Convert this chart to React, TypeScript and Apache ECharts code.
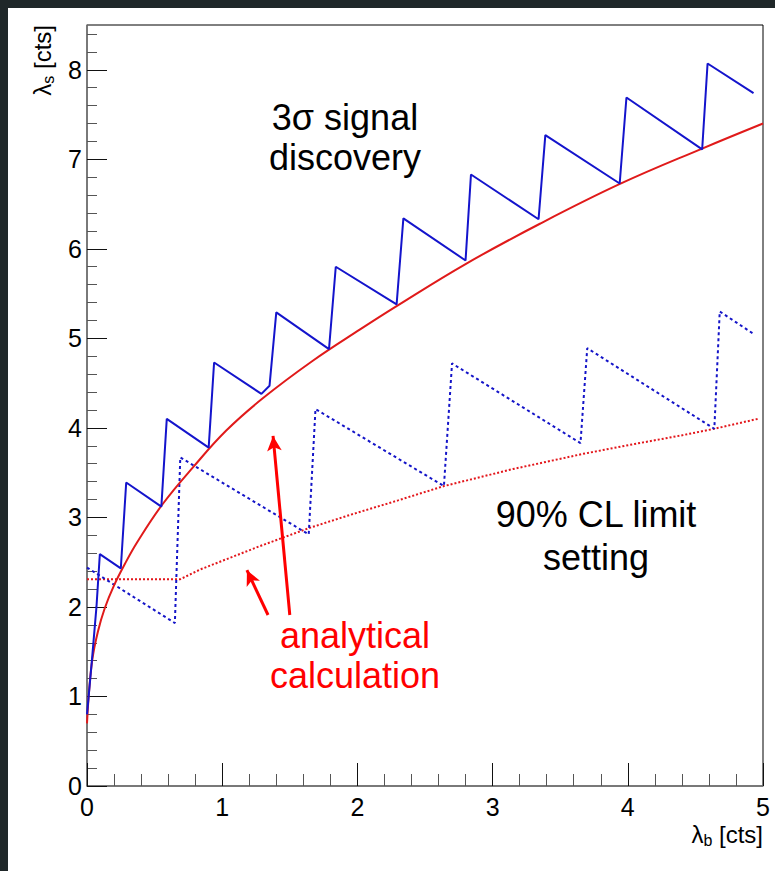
import React, { useEffect, useRef } from 'react';
import * as echarts from 'echarts';

// Red solid: analytical 3σ discovery
const discoveryAnalytical: number[][] = [
  [0, 0.7], [0.015, 1.05], [0.04, 1.42], [0.08, 1.72], [0.13, 1.98], [0.2, 2.24],
  [0.28, 2.48], [0.37, 2.72], [0.56, 3.15], [0.79, 3.57], [1.03, 3.97], [1.3, 4.33],
  [1.67, 4.75], [2.02, 5.1], [2.29, 5.36], [2.8, 5.83], [3.35, 6.28], [3.95, 6.73],
  [4.55, 7.12], [5.0, 7.4],
];
// Blue solid: Poisson 3σ discovery
const discoveryPoisson: number[][] = [
  [0, 0.8], [0.035, 1.38], [0.07, 2.0], [0.095, 2.59], [0.25, 2.43], [0.29, 3.39],
  [0.55, 3.12], [0.59, 4.1], [0.9, 3.78], [0.94, 4.73], [1.29, 4.38], [1.35, 4.47],
  [1.4, 5.29], [1.79, 4.88], [1.84, 5.8], [2.29, 5.38], [2.34, 6.34], [2.8, 5.87],
  [2.84, 6.83], [3.34, 6.33], [3.39, 7.27], [3.94, 6.73], [3.99, 7.69], [4.55, 7.11],
  [4.59, 8.07], [4.93, 7.74],
];
// Blue dotted: Poisson 90% CL limit
const limitPoisson: number[][] = [
  [0, 2.44], [0.65, 1.82], [0.69, 3.67], [1.64, 2.81], [1.69, 4.21], [2.64, 3.35],
  [2.7, 4.72], [3.65, 3.83], [3.7, 4.89], [4.64, 3.99], [4.68, 5.3], [4.93, 5.05],
];
// Red dotted: analytical 90% CL limit
const limitAnalytical: number[][] = [
  [0, 2.31], [0.69, 2.31], [0.84, 2.42], [1.28, 2.68], [1.64, 2.88], [1.95, 3.03],
  [2.3, 3.19], [2.64, 3.35], [3.15, 3.54], [3.67, 3.71], [4.05, 3.82], [4.41, 3.92],
  [4.64, 3.99], [4.96, 4.1],
];
// Arrows (data coordinates): [from, to]
const arrowToDiscovery = [[1.5, 1.91], [1.376, 3.91]];
const arrowToLimit = [[1.339, 1.91], [1.183, 2.41]];

const yMajorTicks = [0, 1, 2, 3, 4, 5, 6, 7, 8];
const yMinorTicks: number[] = [];
for (let i = 1; i <= 42; i++) {
  if (i % 5 !== 0) yMinorTicks.push(Math.round(i * 20) / 100);
}

const FONT = "'Liberation Sans', Arial, Helvetica, sans-serif";

export default function App() {
  const ref = useRef<HTMLDivElement>(null);
  useEffect(() => {
    document.body.style.background = '#1f2729';
    document.body.style.margin = '8px 0 0 8px';
    document.body.style.overflow = 'hidden';
    if (!ref.current) return;
    const chart = echarts.init(ref.current, undefined, { renderer: 'svg' });
    const titleRich = {
      l: { fontSize: 24, fontFamily: FONT, color: '#000', lineHeight: 30 },
      s: { fontSize: 16, fontFamily: FONT, color: '#000', lineHeight: 16, padding: [12, 0, 0, 0] },
    };
    const bigText = (text: string, x: number, y: number, color: string) => ({
      type: 'text',
      x,
      y,
      z: 100,
      style: {
        text,
        fill: color,
        font: `36px ${FONT}`,
        textAlign: 'center',
        textVerticalAlign: 'middle',
        align: 'center',
        verticalAlign: 'middle',
      },
    });
    const option: any = {
      animation: false,
      backgroundColor: '#ffffff',
      grid: {
        left: 79, top: 17, right: 12, bottom: 85,
        show: true, borderColor: '#000', borderWidth: 1, backgroundColor: 'transparent',
      },
      xAxis: {
        type: 'value', min: 0, max: 5, interval: 1,
        axisLine: { show: true, onZero: false, lineStyle: { color: '#777', width: 1.5 } },
        axisTick: { show: true, inside: true, length: 23, lineStyle: { color: '#111', width: 1 } },
        minorTick: { show: true, splitNumber: 5, length: 12, lineStyle: { color: '#555', width: 1 } },
        axisLabel: { margin: 8, fontSize: 25, color: '#000', fontFamily: FONT },
        splitLine: { show: false },
        minorSplitLine: { show: false },
      },
      yAxis: [
        {
          type: 'value', min: 0, max: 8.5, position: 'left',
          axisLine: { show: true, onZero: false, lineStyle: { color: '#777', width: 1.5 } },
          axisTick: { show: true, inside: true, length: 20, customValues: yMajorTicks, lineStyle: { color: '#111', width: 1 } },
          axisLabel: { margin: 5, fontSize: 25, color: '#000', fontFamily: FONT, customValues: yMajorTicks },
          splitLine: { show: false },
        },
        {
          type: 'value', min: 0, max: 8.5, position: 'left', offset: 0,
          axisLine: { show: false },
          axisTick: { show: true, inside: true, length: 10, customValues: yMinorTicks, lineStyle: { color: '#555', width: 1 } },
          axisLabel: { show: false },
          splitLine: { show: false },
        },
      ],
      series: [
        {
          name: 'limitAnalytical', type: 'line', data: limitAnalytical, symbol: 'none',
          lineStyle: { color: '#e3161b', width: 2, type: [2, 2] }, z: 2,
          markLine: {
            silent: true, symbol: ['none', 'arrow'], symbolSize: [11, 15],
            label: { show: false },
            lineStyle: { color: '#ff0000', width: 3, type: 'solid' },
            data: [
              [{ coord: arrowToDiscovery[0] }, { coord: arrowToDiscovery[1] }],
              [{ coord: arrowToLimit[0] }, { coord: arrowToLimit[1] }],
            ],
          },
        },
        {
          name: 'limitPoisson', type: 'line', data: limitPoisson, symbol: 'none',
          lineStyle: { color: '#1414c8', width: 2, type: [3, 3] }, z: 3,
        },
        {
          name: 'discoveryAnalytical', type: 'line', data: discoveryAnalytical, symbol: 'none',
          smooth: 0.4,
          lineStyle: { color: '#e01a1a', width: 2 }, z: 4,
        },
        {
          name: 'discoveryPoisson', type: 'line', data: discoveryPoisson, symbol: 'none',
          lineStyle: { color: '#1414cc', width: 2 }, z: 5,
        },
      ],
      graphic: [
        bigText('3σ signal', 337, 109, '#000'),
        bigText('discovery', 337, 149, '#000'),
        bigText('90% CL limit', 588, 506, '#000'),
        bigText('setting', 588, 549, '#000'),
        bigText('analytical', 347, 627, '#ff0000'),
        bigText('calculation', 347, 667, '#ff0000'),
        {
          type: 'text', x: 34, y: 17, rotation: Math.PI / 2, z: 100,
          style: {
            text: '{l|λ}{s|s}{l| [cts]}', rich: titleRich,
            textAlign: 'right', align: 'right', textVerticalAlign: 'middle', verticalAlign: 'middle',
          },
        },
        {
          type: 'text', x: 755, y: 826, z: 100,
          style: {
            text: '{l|λ}{s|b}{l| [cts]}', rich: titleRich,
            textAlign: 'right', align: 'right', textVerticalAlign: 'middle', verticalAlign: 'middle',
          },
        },
      ],
    };
    chart.setOption(option);
    return () => chart.dispose();
  }, []);
  return <div ref={ref} style={{ width: 767, height: 863, background: '#fff' }} />;
}
